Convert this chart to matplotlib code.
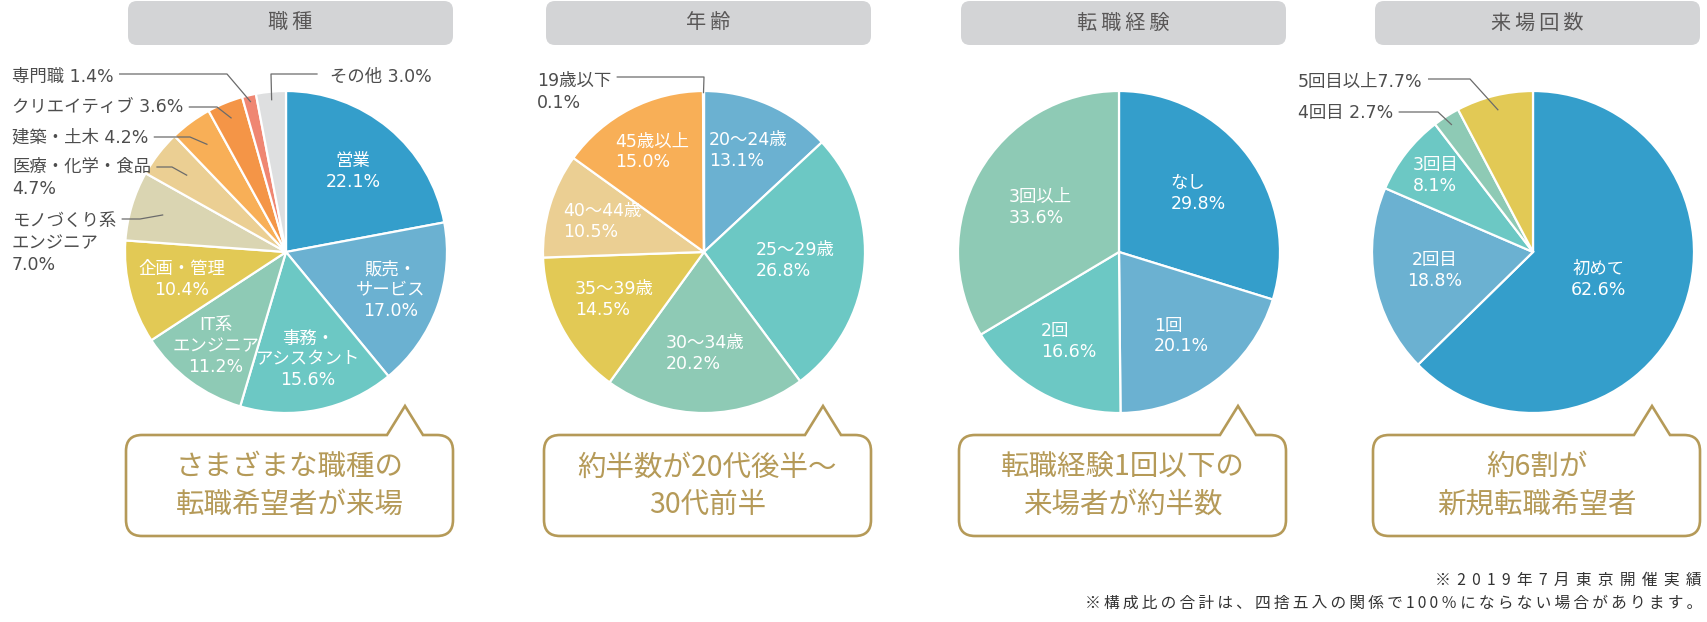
import matplotlib
matplotlib.use("Agg")
import matplotlib.pyplot as plt
from matplotlib.path import Path
from matplotlib.patches import PathPatch, FancyBboxPatch
import numpy as np

plt.rcParams['font.family'] = ['Noto Sans CJK JP', 'DejaVu Sans']
LABEL_FONT = ['DejaVu Sans', 'Noto Sans CJK JP']

# ---- data ----
titles = ['職種', '年齢', '転職経験', '来場回数']

job_labels = ['営業', '販売・\nサービス', '事務・\nアシスタント', 'IT系\nエンジニア', '企画・管理',
              'モノづくり系\nエンジニア', '医療・化学・食品', '建築・土木', 'クリエイティブ', '専門職', 'その他']
job_values = [22.1, 17.0, 15.6, 11.2, 10.4, 7.0, 4.7, 4.2, 3.6, 1.4, 3.0]

age_labels = ['20〜24歳', '25〜29歳', '30〜34歳', '35〜39歳', '40〜44歳', '45歳以上', '19歳以下']
age_values = [13.1, 26.8, 20.2, 14.5, 10.5, 15.0, 0.1]

change_labels = ['なし', '1回', '2回', '3回以上']
change_values = [29.8, 20.1, 16.6, 33.6]

visit_labels = ['初めて', '2回目', '3回目', '4回目', '5回目以上']
visit_values = [62.6, 18.8, 8.1, 2.7, 7.7]

callouts = ['さまざまな職種の\n転職希望者が来場', '約半数が20代後半〜\n30代前半',
            '転職経験1回以下の\n来場者が約半数', '約6割が\n新規転職希望者']

notes = ['※2019年7月東京開催実績', '※構成比の合計は、四捨五入の関係で100％にならない場合があります。']

# ---- styles ----
C_BLUE = '#349ecb'
C_LBLUE = '#6bb1d1'
C_TEAL = '#6cc8c4'
C_MINT = '#8ecab5'
C_YEL = '#e2c955'
C_BEIGE = '#dad5b2'
C_SAND = '#ebcf93'
C_ORG = '#f8af57'
C_DORG = '#f49547'
C_SALM = '#ef8672'
C_GRAY = '#dedfe0'
GOLD = '#b59a58'
LABEL_C = '#4d4d4d'

job_colors = [C_BLUE, C_LBLUE, C_TEAL, C_MINT, C_YEL, C_BEIGE, C_SAND, C_ORG, C_DORG, C_SALM, C_GRAY]
age_colors = [C_LBLUE, C_TEAL, C_MINT, C_YEL, C_SAND, C_ORG, '#dddddd']
change_colors = [C_BLUE, C_LBLUE, C_TEAL, C_MINT]
visit_colors = [C_BLUE, C_LBLUE, C_TEAL, C_MINT, C_YEL]

W, H = 1707, 622
centers = [286, 704, 1119, 1533]
CY = 252
R = 161


def spaced(s, sep='\u2009'):
    return sep.join(s)


fig = plt.figure(figsize=(W / 100, H / 100), dpi=100)
ax = fig.add_axes([0, 0, 1, 1])

# inner label radius fraction (None = outer label)
inner_frac = [
    [0.65, 0.69, 0.68, 0.73, 0.67, None, None, None, None, None, None],
    [0.69, 0.57, 0.63, 0.63, 0.66, 0.70, None],
    [0.61, 0.65, 0.64, 0.56],
    [0.44, 0.62, 0.77, None, None],
]
inner_align = ['center', 'left', 'left', 'center']

# outer labels: slice index, text x, text y, line y, elbow x, end radius frac, line side
outer = [
    [(9, 12, 77, 74, 227, 0.96, 'r'),
     (8, 12, 107, 107, 217, 0.90, 'r'),
     (7, 12, 137, 137, 190, 0.83, 'r'),
     (6, 12, 178, 167, 172, 0.78, 'r'),
     (5, 12, 243, 219, 140, 0.80, 'r'),
     (10, 330, 77, 74, 271, 0.95, 'l')],
    [(6, 537, 92, 77, 704, 0.99, 'r')],
    [],
    [(3, 1298, 113, 112, 1438, 0.94, 'r'),
     (4, 1298, 82, 79, 1470, 0.91, 'r')],
]

pies = [(job_labels, job_values, job_colors),
        (age_labels, age_values, age_colors),
        (change_labels, change_values, change_colors),
        (visit_labels, visit_values, visit_colors)]

outer_text = {
    (0, 9): '専門職 1.4%', (0, 8): 'クリエイティブ 3.6%', (0, 7): '建築・土木 4.2%',
    (0, 6): '医療・化学・食品\n4.7%', (0, 5): 'モノづくり系\nエンジニア\n7.0%', (0, 10): 'その他 3.0%',
    (1, 6): '19歳以下\n0.1%', (3, 3): '4回目 2.7%', (3, 4): '5回目以上7.7%',
}

leaders = []
for k, (labels, values, colors) in enumerate(pies):
    cx = centers[k]
    wedges, _ = ax.pie(values, colors=colors, center=(cx, CY), radius=R,
                       startangle=-90, counterclock=True,
                       wedgeprops=dict(edgecolor='white', linewidth=1.6))
    for i, w in enumerate(wedges):
        mid = np.deg2rad((w.theta1 + w.theta2) / 2)
        f = inner_frac[k][i]
        if f is not None:
            x = cx + f * R * np.cos(mid)
            y = CY + f * R * np.sin(mid)
            ax.text(x, y, f'{labels[i]}\n{values[i]:.1f}%', color='white', fontsize=12.5,
                    family=LABEL_FONT, ha='center', va='center',
                    multialignment=inner_align[k], linespacing=1.2, zorder=5)
    for (i, tx, ty, ly, ex, ef, side) in outer[k]:
        mid = np.deg2rad((wedges[i].theta1 + wedges[i].theta2) / 2)
        px = cx + ef * R * np.cos(mid)
        py = CY + ef * R * np.sin(mid)
        t = ax.text(tx, ty, outer_text[(k, i)], color=LABEL_C, fontsize=12.5,
                    family=LABEL_FONT, ha='left', va='center', linespacing=1.3, zorder=6)
        leaders.append((t, side, ly, ex, px, py))

    # header box
    hx0, hx1 = cx - 158, cx + 167
    ax.add_patch(FancyBboxPatch((hx0, 1), hx1 - hx0, 44,
                                boxstyle='round,pad=0,rounding_size=9',
                                fc='#d3d4d6', ec='none', zorder=2))
    ax.text((hx0 + hx1) / 2, 23, spaced(titles[k]), fontsize=14.5, color='#595757',
            ha='center', va='center', zorder=3)

    # speech bubble
    x0, x1, y0, y1, r = cx - 160, cx + 167, 435, 536, 16
    tx, ty, hb = cx + 119, 406, 18
    verts = [(x0 + r, y0), (tx - hb, y0), (tx, ty), (tx + hb, y0), (x1 - r, y0),
             (x1, y0), (x1, y0 + r), (x1, y1 - r), (x1, y1), (x1 - r, y1),
             (x0 + r, y1), (x0, y1), (x0, y1 - r), (x0, y0 + r), (x0, y0), (x0 + r, y0),
             (x0 + r, y0)]
    codes = [Path.MOVETO, Path.LINETO, Path.LINETO, Path.LINETO, Path.LINETO,
             Path.CURVE3, Path.CURVE3, Path.LINETO, Path.CURVE3, Path.CURVE3,
             Path.LINETO, Path.CURVE3, Path.CURVE3, Path.LINETO, Path.CURVE3, Path.CURVE3,
             Path.CLOSEPOLY]
    ax.add_patch(PathPatch(Path(verts, codes), fc='white', ec=GOLD, lw=1.9,
                           joinstyle='miter', zorder=4))
    ax.text((x0 + x1) / 2, 486, callouts[k], fontsize=20.5, color=GOLD,
            ha='center', va='center', linespacing=1.33, zorder=5)

ax.text(1702, 580, spaced(notes[0], '\u2009\u2009'), fontsize=11.3, color='#333333',
        ha='right', va='center')
ax.text(1702, 603, spaced(notes[1]), fontsize=11.3, color='#333333', ha='right', va='center')

ax.set_xlim(0, W)
ax.set_ylim(H, 0)
ax.set_aspect('equal')
ax.axis('off')

# leader lines start right next to the label text
renderer = fig.canvas.get_renderer()
inv = ax.transData.inverted()
for (t, side, ly, ex, px, py) in leaders:
    bb = t.get_window_extent(renderer)
    (bx0, _), (bx1, _) = inv.transform([(bb.x0, bb.y0), (bb.x1, bb.y1)])
    sx = bx1 + 6 if side == 'r' else bx0 - 13
    ax.plot([sx, ex, px], [ly, ly, py], color='#6b6b6b', lw=0.9, zorder=6)

fig.savefig('out.png', dpi=100, facecolor='white')
